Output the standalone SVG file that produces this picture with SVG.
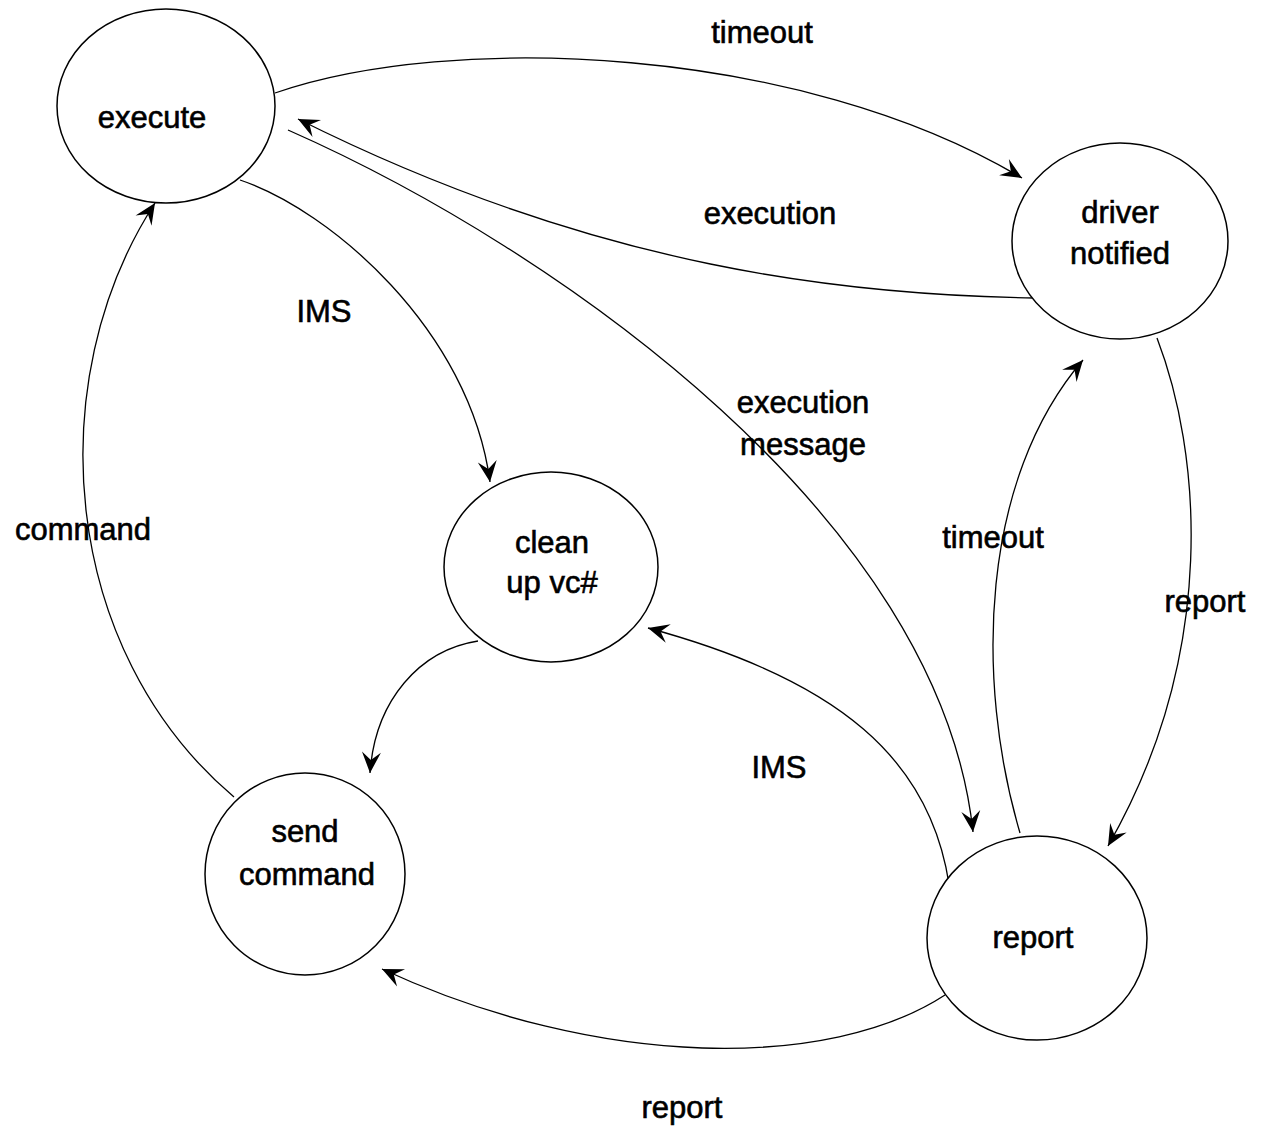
<svg xmlns="http://www.w3.org/2000/svg" width="1262" height="1128" viewBox="0 0 1262 1128">
  <style>
    .node { fill: #fff; stroke: #000; stroke-width: 1.5; }
    .edge { fill: none; stroke: #000; stroke-width: 1.3; marker-end: url(#arrow); }
    text { font-family: "Liberation Sans", Arial, sans-serif; font-size: 31px; fill: #000; stroke: #000; stroke-width: 0.6; text-anchor: middle; }
  </style>
  <defs>
    <marker id="arrow" viewBox="-24 -12 26 24" refX="0" refY="0" markerWidth="26" markerHeight="24" markerUnits="userSpaceOnUse" orient="auto">
      <path d="M0,0 L-21,-9.5 L-13,0 L-21,9.5 Z" fill="#000"/>
    </marker>
  </defs>
  <rect width="1262" height="1128" fill="#fff"/>

  <!-- connectors -->
  <g id="connectors">
    <path class="edge" d="M275,93 C450,32 800,45 1022,178"/>
    <path class="edge" d="M1035,298 C850,295 600,270 298,119"/>
    <path class="edge" d="M288,130 C560,250 940,520 973,832"/>
    <path class="edge" d="M240,180 C330,210 470,330 490,482"/>
    <path class="edge" d="M234,797 C60,650 40,380 155,203"/>
    <path class="edge" d="M478,641 C420,650 375,700 370,773"/>
    <path class="edge" d="M949,884 C930,760 840,680 648,628"/>
    <path class="edge" d="M1020,833 C975,680 980,480 1083,360"/>
    <path class="edge" d="M1157,338 C1200,450 1220,650 1108,846"/>
    <path class="edge" d="M945,995 C830,1070 600,1070 382,969"/>
  </g>

  <!-- connector labels -->
  <g id="labels">
    <text x="762" y="43">timeout</text>
    <text x="770" y="224">execution</text>
    <text x="324" y="322">IMS</text>
    <text x="803" y="413">execution</text>
    <text x="803" y="455">message</text>
    <text x="83" y="540">command</text>
    <text x="993" y="548">timeout</text>
    <text x="1205" y="612">report</text>
    <text x="779" y="778">IMS</text>
    <text x="682" y="1118">report</text>
  </g>

  <!-- states -->
  <g id="execute">
    <ellipse class="node" cx="166" cy="106" rx="109" ry="97"/>
    <text x="152" y="128">execute</text>
  </g>
  <g id="driver-notified">
    <ellipse class="node" cx="1120" cy="241" rx="108" ry="98"/>
    <text x="1120" y="223">driver</text>
    <text x="1120" y="264">notified</text>
  </g>
  <g id="clean-up">
    <ellipse class="node" cx="551" cy="567" rx="107" ry="95"/>
    <text x="552" y="553">clean</text>
    <text x="552" y="593">up vc#</text>
  </g>
  <g id="send-command">
    <ellipse class="node" cx="305" cy="874" rx="100" ry="101"/>
    <text x="305" y="842">send</text>
    <text x="307" y="885">command</text>
  </g>
  <g id="report">
    <ellipse class="node" cx="1037" cy="938" rx="110" ry="102"/>
    <text x="1033" y="948">report</text>
  </g>
</svg>
